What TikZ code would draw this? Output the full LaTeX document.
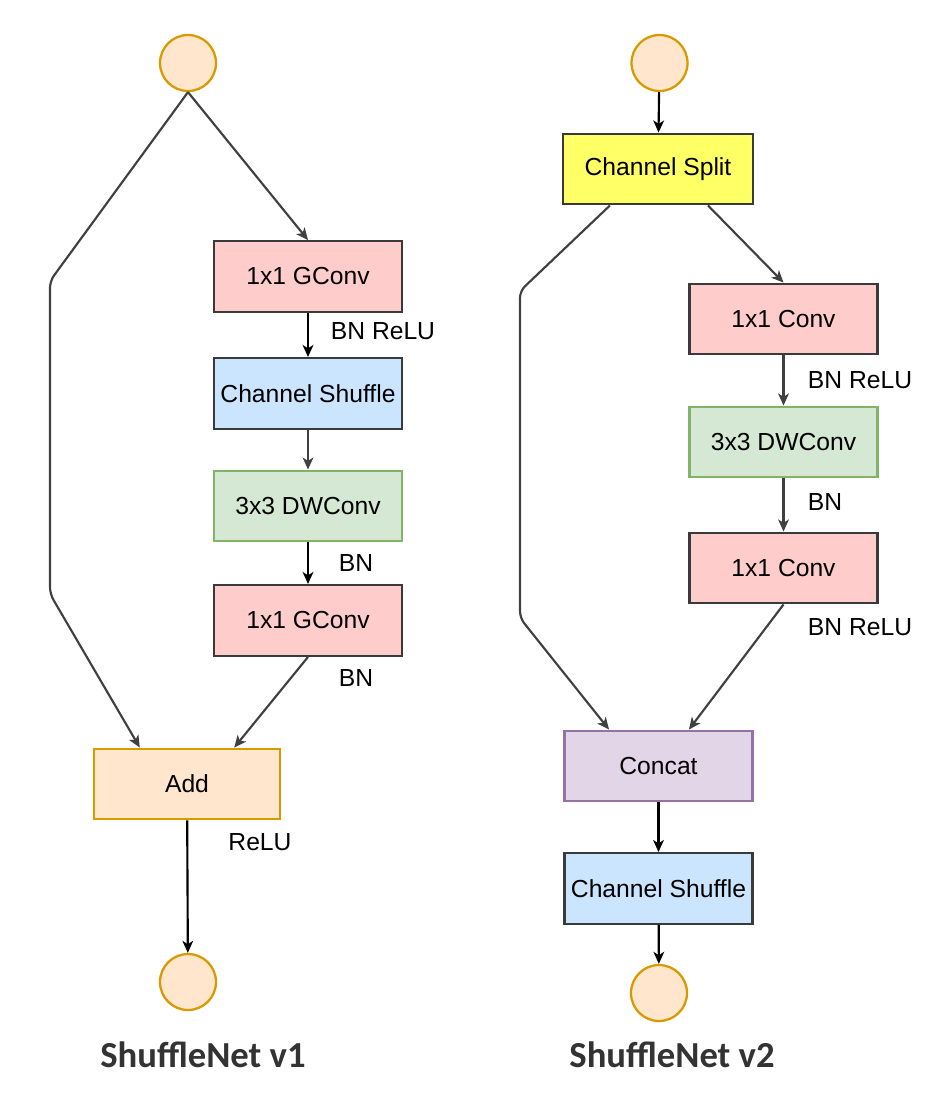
\documentclass[tikz,border=0pt]{standalone}
\usepackage{fontspec}
\setmainfont{Liberation Sans}
\newfontfamily\titlefont{Carlito}
\usetikzlibrary{arrows.meta,calc}
\definecolor{pinkf}{HTML}{FFCCCC}
\definecolor{bluef}{HTML}{CCE5FF}
\definecolor{greenf}{HTML}{D5E8D4}
\definecolor{greend}{HTML}{82B366}
\definecolor{orangef}{HTML}{FFE6CC}
\definecolor{oranged}{HTML}{D79B00}
\definecolor{purplef}{HTML}{E1D5E7}
\definecolor{purpled}{HTML}{9673A6}
\definecolor{yellowf}{HTML}{FFFF66}
\definecolor{edge}{HTML}{3A3A3A}
\definecolor{lineg}{HTML}{404040}
\definecolor{titlec}{HTML}{333333}
\begin{document}
\begin{tikzpicture}[x=0.75pt,y=-0.75pt,
  every node/.style={font=\fontsize{18.5pt}{22pt}\selectfont},
  blk/.style={draw=edge,line width=1.7pt,rectangle,minimum width=141pt,minimum height=53pt,inner sep=0pt},
  pinkbox/.style={blk,fill=pinkf},
  bluebox/.style={blk,fill=bluef},
  greenbox/.style={blk,fill=greenf,draw=greend},
  orangebox/.style={blk,fill=orangef,draw=oranged},
  purplebox/.style={blk,fill=purplef,draw=purpled},
  yellowbox/.style={blk,fill=yellowf},
  io/.style={circle,draw=oranged,fill=orangef,line width=1.7pt,minimum size=42pt,inner sep=0pt},
  lbl/.style={inner sep=0pt},
  ttl/.style={inner sep=0pt,text=titlec,font=\titlefont\bfseries\fontsize{27.5pt}{32pt}\selectfont},
  conn/.style={draw=lineg,line width=1.6pt,-{Stealth[length=9pt,width=8pt,inset=2.5pt]}},
  connb/.style={conn,draw=black}
]
\useasboundingbox (0,0) rectangle (927,1102);
\fill[white] (0,0) rectangle (927,1102);

% ---------- ShuffleNet v1 ----------
\node[io] (c1top) at (188,63) {};
\node[pinkbox] (g1) at (308,276.5) {1x1 GConv};
\node[bluebox] (cs1) at (308,393.5) {Channel Shuffle};
\node[greenbox] (dw1) at (308,506) {3x3 DWConv};
\node[pinkbox] (g2) at (308,620.5) {1x1 GConv};
\node[orangebox,minimum width=140pt] (add) at (187,784) {Add};
\node[io] (c1bot) at (188,982) {};

\node[lbl] (l1) at (383,331) {BN ReLU};
\node[lbl] (l2) at (356,563) {BN};
\node[lbl] (l3) at (356,678) {BN};
\node[lbl] (l4) at (260,842) {ReLU};
\node[ttl] (t1) at (203,1055) {ShuffleNet v1};

\coordinate (la) at (50,281);
\coordinate (lb) at (50,594);
\draw[conn] (c1top.south) -- (g1.north);
\draw[conn,rounded corners=5pt] (c1top.south) -- (la) -- (lb) -- ($(add.north west)!0.25!(add.north east)$);
\draw[connb] (g1) -- (cs1);
\draw[conn] (cs1) -- (dw1);
\draw[connb] (dw1) -- (g2);
\draw[conn] (g2.south) -- ($(add.north west)!0.75!(add.north east)$);
\draw[connb] (add) -- (c1bot);

% ---------- ShuffleNet v2 ----------
\node[io] (c2top) at (659.5,63) {};
\node[yellowbox,minimum width=142.5pt] (split) at (658,169) {Channel Split};
\node[pinkbox] (cv1) at (783.5,319) {1x1 Conv};
\node[greenbox] (dw2) at (783.5,442) {3x3 DWConv};
\node[pinkbox] (cv2) at (783.5,568) {1x1 Conv};
\node[purplebox] (concat) at (658.5,766) {Concat};
\node[bluebox] (cs2) at (658.5,888.5) {Channel Shuffle};
\node[io] (c2bot) at (659,993) {};

\node[lbl] (m1) at (860,380) {BN ReLU};
\node[lbl] (m2) at (825,502) {BN};
\node[lbl] (m3) at (860,627) {BN ReLU};
\node[ttl] (t2) at (672,1055) {ShuffleNet v2};

\coordinate (ra) at (520,291);
\coordinate (rb) at (520,618);
\draw[connb] (c2top) -- (split);
\draw[conn,rounded corners=5pt] ($(split.south west)!0.25!(split.south east)$) -- (ra) -- (rb) -- ($(concat.north west)!0.24!(concat.north east)$);
\draw[conn] ($(split.south west)!0.76!(split.south east)$) -- (cv1.north);
\draw[conn] (cv1) -- (dw2);
\draw[conn] (dw2) -- (cv2);
\draw[conn] (cv2.south) -- ($(concat.north west)!0.66!(concat.north east)$);
\draw[connb] (concat) -- (cs2);
\draw[connb] (cs2) -- (c2bot);
\end{tikzpicture}
\end{document}
